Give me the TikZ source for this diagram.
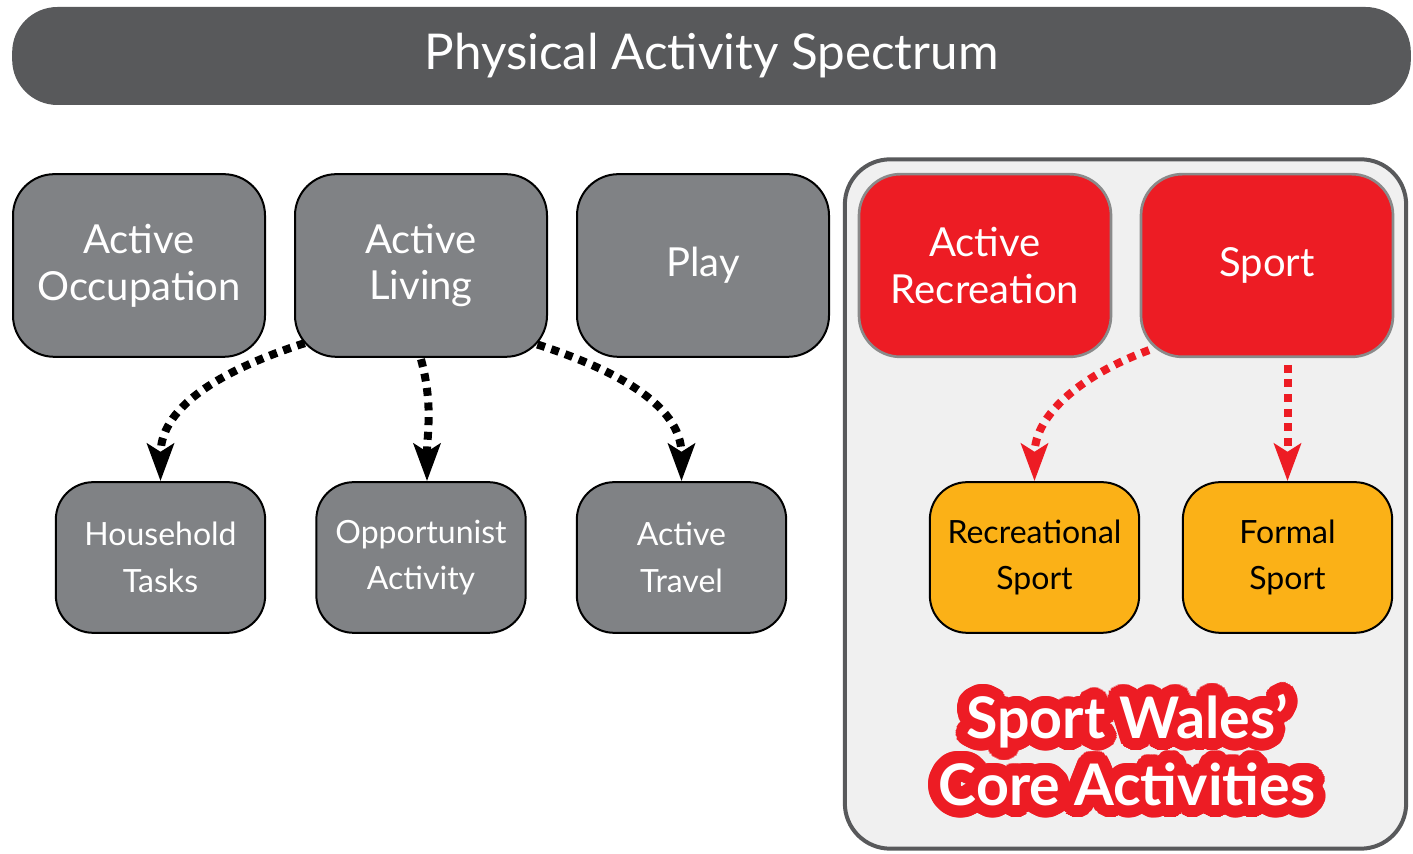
\documentclass[tikz,border=0pt]{standalone}
\usepackage{fontspec}
\setmainfont{Lato}
\usepackage{tikz}
\usetikzlibrary{arrows.meta}
\usetikzlibrary{positioning}
\usetikzlibrary{calc}

\definecolor{bannergray}{HTML}{58595B}
\definecolor{boxgray}{HTML}{808285}
\definecolor{swred}{HTML}{ED1C24}
\definecolor{swamber}{HTML}{FBB117}
\definecolor{panelgray}{HTML}{F0F0F0}
\definecolor{rimgray}{HTML}{8A8A8A}

\begin{document}
\begin{tikzpicture}[x=0.75pt, y=0.75pt,
    banner/.style={fill=bannergray, rounded corners=34pt, minimum width=1049pt, minimum height=73.5pt,
      text=white, font=\fontsize{37}{40}\selectfont},
    bigbox/.style={draw=black, line width=1.5pt, fill=boxgray, rounded corners=31pt,
      minimum width=189pt, minimum height=137pt, inner sep=0pt, align=center,
      text=white, font=\fontsize{30}{35}\selectfont},
    redbox/.style={bigbox, draw=rimgray, line width=2pt, fill=swred},
    smallbox/.style={draw=black, line width=1.5pt, fill=boxgray, rounded corners=28pt,
      minimum width=157pt, minimum height=113pt, inner sep=0pt, align=center,
      text=white, font=\fontsize{24}{35}\selectfont},
    amberbox/.style={smallbox, fill=swamber, text=black},
    dotarrow/.style={line width=6pt, dash pattern=on 6pt off 5pt,
      -{Stealth[length=28pt, width=20pt, inset=6pt]}},
    redarrow/.style={dotarrow, draw=swred},
    coretext/.style={align=center, font=\fontsize{43}{50}\bfseries}]

  \useasboundingbox (0,0) rectangle (1413,853);

  % title bar
  \node[banner] (title) at (711.5,797) {Physical Activity Spectrum};

  % panel for the core activities
  \node[draw=bannergray, line width=3pt, fill=panelgray, rounded corners=34pt,
        minimum width=421pt, minimum height=517pt] (panel) at (1125.5,349) {};

  % top row
  \node[bigbox] (occupation) at (139,587.5) {Active\\Occupation};
  \node[bigbox] (living) at (421,587.5) {Active\\Living};
  \node[bigbox] (play) at (703,587.5) {Play};
  \node[redbox] (recreation) at (985,587.5) {Active\\Recreation};
  \node[redbox] (sport) at (1267,587.5) {Sport};

  % bottom row
  \node[smallbox] (household) at (160.5,295.5) {Household\\Tasks};
  \node[smallbox] (opportunist) at (421,295.5) {Opportunist\\Activity};
  \node[smallbox] (travel) at (681.5,295.5) {Active\\Travel};
  \node[amberbox] (recsport) at (1034.5,295.5) {Recreational\\Sport};
  \node[amberbox] (formal) at (1287.5,295.5) {Formal\\Sport};

  % arrows
  \draw[dotarrow] ([xshift=8pt,yshift=11pt]living.south west) to[out=198,in=90] (household.north);
  \draw[dotarrow] ([yshift=-1pt]living.south) to[out=-75,in=90] ([xshift=4.5pt]opportunist.north);
  \draw[dotarrow] ([xshift=-8pt,yshift=10pt]living.south east) to[out=-18,in=90] (travel.north);
  \draw[redarrow] ([xshift=7pt,yshift=6pt]sport.south west) to[out=200,in=90] (recsport.north);
  \draw[redarrow] ([yshift=-5pt]sport.south -| formal.north) -- (formal.north);

  % outlined caption
  \coordinate (corepos) at (1127,103);
  \foreach \r in {6,12}
    \foreach \a in {0,10,...,350}
      \node[coretext, text=swred] at ($(corepos)+(\a:\r)$) {Sport Wales’\\Core Activities};
  \node[coretext, text=white] (core) at (corepos) {Sport Wales’\\Core Activities};
\end{tikzpicture}
\end{document}
